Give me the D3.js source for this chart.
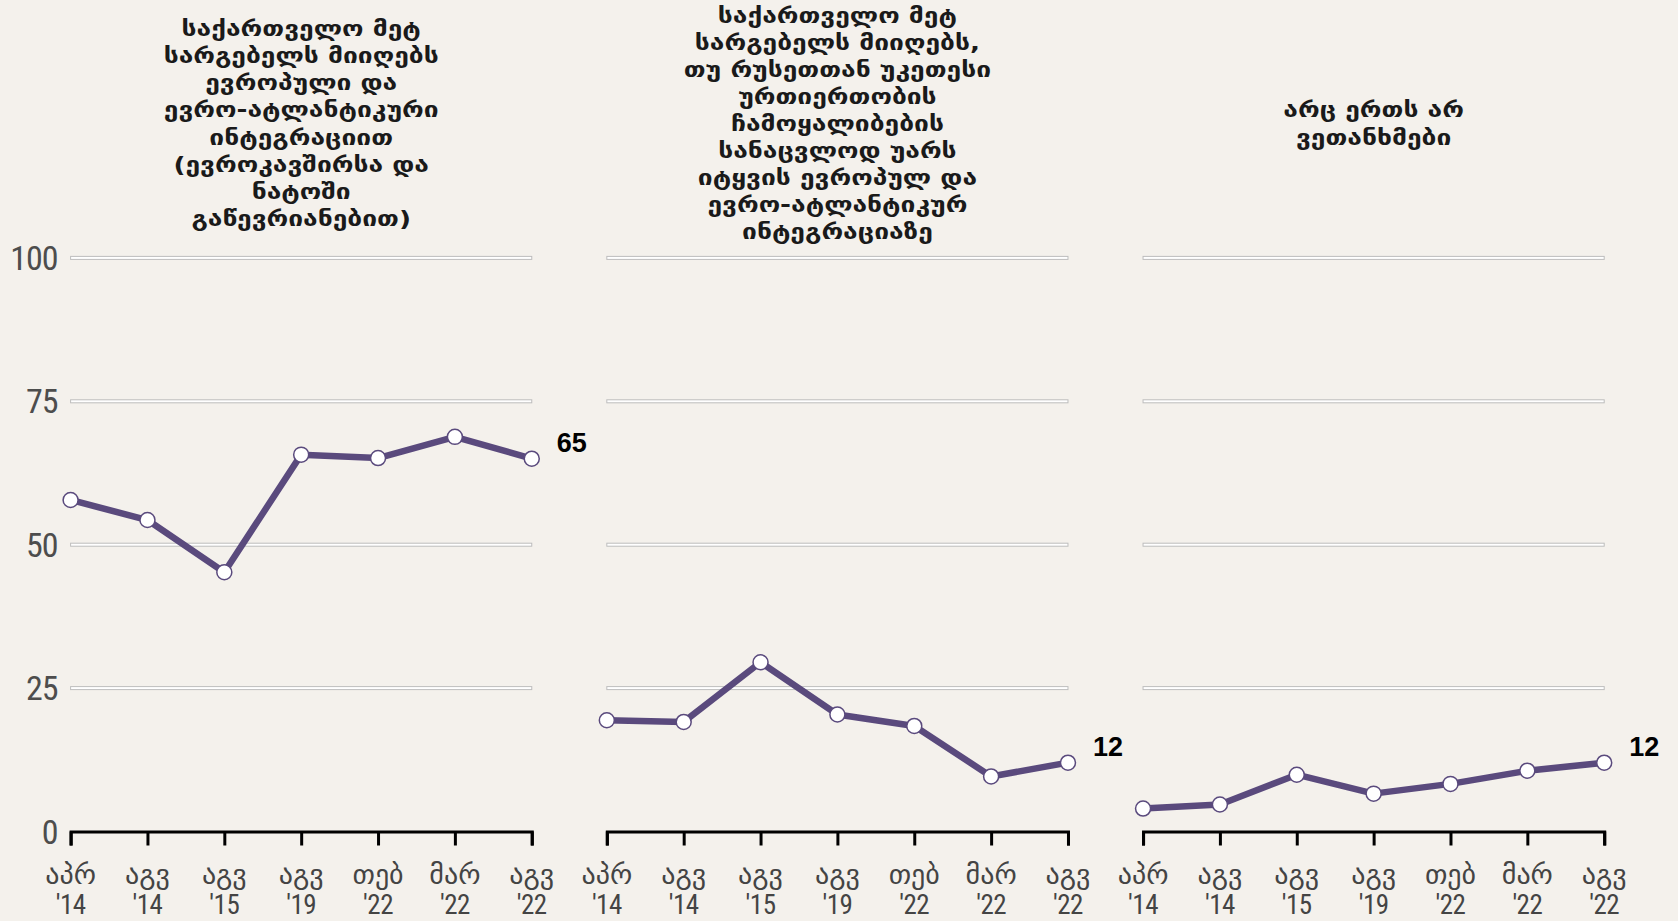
<!DOCTYPE html>
<html>
<head>
<meta charset="utf-8">
<script src="https://cdn.jsdelivr.net/npm/d3@7"></script>
<style>
  html, body { margin: 0; padding: 0; background: #f4f1ec; }
  svg { display: block; }
</style>
</head>
<body>
<svg id="chart" width="1678" height="921"></svg>
<script>
// Survey waves (month abbreviation + year)
const months = ["აპრ", "აგვ", "აგვ", "აგვ", "თებ", "მარ", "აგვ"];
const years = ["'14", "'14", "'15", "'19", "'22", "'22", "'22"];

// Share of respondents (%) per wave
const benefitEuroAtlantic = [57.8, 54.3, 45.2, 65.7, 65.1, 68.8, 65];
const benefitRussia = [19.4, 19.1, 29.5, 20.4, 18.4, 9.6, 12];
const agreeWithNeither = [4, 4.7, 9.9, 6.6, 8.3, 10.6, 12];

// Panel headings, one line per entry
const titleEuroAtlantic = [
  "საქართველო მეტ",
  "სარგებელს მიიღებს",
  "ევროპული და",
  "ევრო-ატლანტიკური",
  "ინტეგრაციით",
  "(ევროკავშირსა და",
  "ნატოში",
  "გაწევრიანებით)"
];
const titleRussia = [
  "საქართველო მეტ",
  "სარგებელს მიიღებს,",
  "თუ რუსეთთან უკეთესი",
  "ურთიერთობის",
  "ჩამოყალიბების",
  "სანაცვლოდ უარს",
  "იტყვის ევროპულ და",
  "ევრო-ატლანტიკურ",
  "ინტეგრაციაზე"
];
const titleNeither = [
  "არც ერთს არ",
  "ვეთანხმები"
];

const yTicks = [0, 25, 50, 75, 100];

const panels = [
  { title: titleEuroAtlantic, values: benefitEuroAtlantic },
  { title: titleRussia, values: benefitRussia },
  { title: titleNeither, values: agreeWithNeither }
];

const categories = months.map((m, i) => m + " " + years[i]);

const svg = d3.select("#chart");
const lineColor = "#5a4a7d";
const numFont = "'Liberation Sans Narrow', 'Roboto Condensed', 'DejaVu Sans Condensed', sans-serif";
const geoFont = "'DejaVu Sans', sans-serif";

const panelScale = d3.scaleBand()
  .domain(d3.range(panels.length))
  .range([70.6, 1604.2])
  .paddingInner(0.14);

const y = d3.scaleLinear().domain([0, 100]).range([831.5, 257.9]);

const x = d3.scalePoint()
  .domain(categories)
  .range([0, panelScale.bandwidth()]);

// y-axis labels on the left of the first panel
svg.append("g")
  .selectAll("text")
  .data(yTicks)
  .join("text")
  .attr("x", 57.5)
  .attr("y", d => y(d) + 12)
  .attr("text-anchor", "end")
  .attr("font-family", numFont)
  .attr("font-size", 34)
  .attr("letter-spacing", -1)
  .attr("fill", "#4d4d4d")
  .text(d => d);

const line = d3.line()
  .x((d, i) => x(categories[i]))
  .y(d => y(d));

panels.forEach((p, pi) => {
  const g = svg.append("g")
    .attr("transform", `translate(${panelScale(pi)},0)`);
  const w = panelScale.bandwidth();

  // gridlines (engraved look: grey edge over a light stroke)
  const grid = g.append("g");
  yTicks.filter(t => t > 0).forEach(t => {
    grid.append("rect")
      .attr("x", 0)
      .attr("y", y(t) - 1.5)
      .attr("width", w)
      .attr("height", 3)
      .attr("fill", "#ffffff")
      .attr("stroke", "#bdbdbd")
      .attr("stroke-width", 1);
  });

  // x axis
  const axis = g.append("g")
    .attr("transform", `translate(0,${y(0)})`)
    .call(d3.axisBottom(x).tickSize(14).tickSizeOuter(14).tickFormat(""));
  axis.select(".domain").attr("stroke", "#000").attr("stroke-width", 3);
  axis.selectAll(".tick line").attr("stroke", "#000").attr("stroke-width", 3);
  axis.selectAll(".tick text").remove();

  // two-line tick labels
  const lbl = g.append("g")
    .selectAll("text")
    .data(categories)
    .join("text")
    .attr("text-anchor", "middle")
    .attr("fill", "#444");
  lbl.append("tspan")
    .attr("x", d => x(d))
    .attr("y", 884)
    .attr("font-family", geoFont)
    .attr("font-size", 28)
    .text((d, i) => months[i]);
  lbl.append("tspan")
    .attr("x", d => x(d))
    .attr("y", 914)
    .attr("font-family", numFont)
    .attr("font-size", 27)
    .attr("letter-spacing", -0.5)
    .text((d, i) => years[i]);

  // series line and markers
  g.append("path")
    .datum(p.values)
    .attr("d", line)
    .attr("fill", "none")
    .attr("stroke", lineColor)
    .attr("stroke-width", 6.5)
    .attr("stroke-linejoin", "round");

  g.append("g")
    .selectAll("circle")
    .data(p.values)
    .join("circle")
    .attr("cx", (d, i) => x(categories[i]))
    .attr("cy", d => y(d))
    .attr("r", 7.5)
    .attr("fill", "#fff")
    .attr("stroke", lineColor)
    .attr("stroke-width", 1.5);

  // end value label
  const last = p.values[p.values.length - 1];
  g.append("text")
    .attr("x", w + 25)
    .attr("y", y(last) - 7)
    .attr("font-family", "'Liberation Sans', Arial, sans-serif")
    .attr("font-weight", "bold")
    .attr("font-size", 27)
    .attr("fill", "#000")
    .text(d3.format(".0f")(last));

  // heading, vertically centred above the plot; glyphs widened so the
  // lines keep their width without the ascenders and descenders colliding
  const lh = 27.1;
  const n = p.title.length;
  g.append("text")
    .attr("transform", `translate(${w / 2},0) scale(1.2,1)`)
    .attr("text-anchor", "middle")
    .attr("font-family", geoFont)
    .attr("font-weight", "bold")
    .attr("font-size", 22)
    .attr("fill", "#1a1a1a")
    .selectAll("tspan")
    .data(p.title)
    .join("tspan")
    .attr("x", 0)
    .attr("y", (d, i) => 125 + (i - (n - 1) / 2) * lh + 6)
    .text(d => d);
});
</script>
</body>
</html>
